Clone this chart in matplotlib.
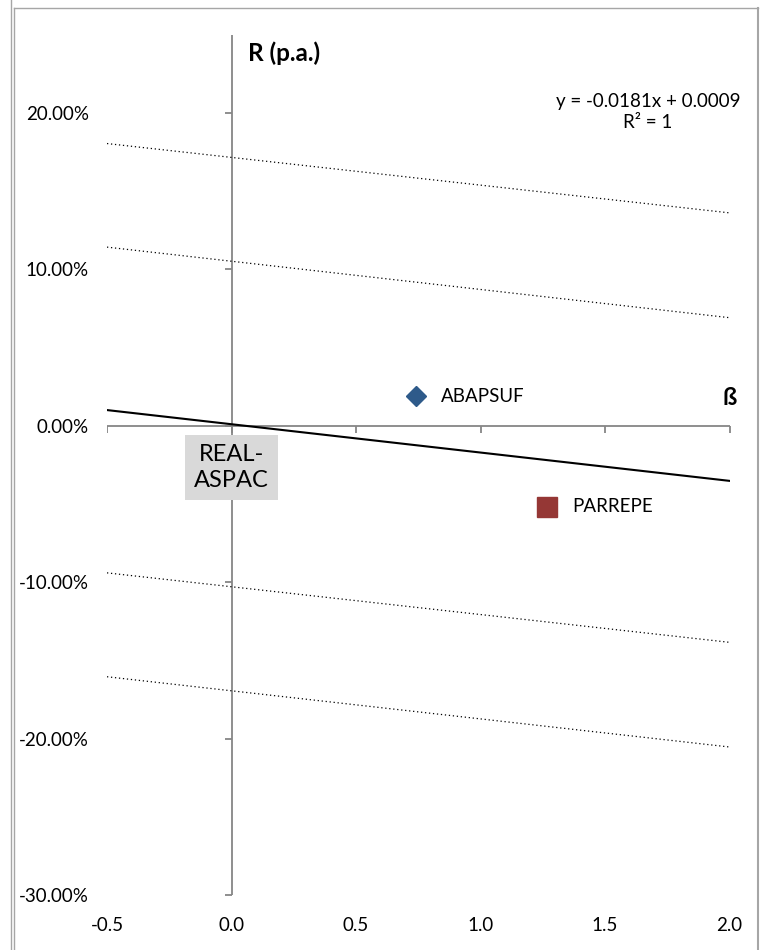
import numpy as np
import matplotlib
matplotlib.use("Agg")
import matplotlib.pyplot as plt
from matplotlib.lines import Line2D

plt.rcParams['font.family'] = ['Lato', 'DejaVu Sans']

# data
line_x = [-0.5, 2.0]
slope, intercept = -0.0181, 0.0009
band_outer_up = [0.1803, 0.1360]
band_inner_up = [0.1141, 0.0690]
band_inner_lo = [-0.0941, -0.1385]
band_outer_lo = [-0.1605, -0.2054]

funds = ["ABAPSUF", "PARREPE"]
fund_beta = [0.741, 1.267]
fund_ret = [0.0188, -0.0518]
fund_marker = ["D", "s"]
fund_ms = [10.5, 14]
fund_color = ["#2E5A8A", "#953735"]

bench_name = "REAL-\nASPAC"
bench_beta = 0.0
bench_ret = 0.0009

xticks = [-0.5, 0.0, 0.5, 1.0, 1.5, 2.0]
yticks = [-0.3, -0.2, -0.1, 0.0, 0.1, 0.2]
axis_gray = "#868686"

fig = plt.figure(figsize=(7.6, 9.5), dpi=100)
W, H = 760, 950
ax = fig.add_axes([107 / W, 1 - 895 / H, 622.5 / W, 860.5 / H])
ax.set_xlim(-0.5, 2.0)
ax.set_ylim(-0.30, 0.25)
for s in ax.spines.values():
    s.set_visible(False)

# tick labels at the low side, like excel
ax.set_xticks(xticks)
ax.set_xticklabels([f"{v:.1f}" for v in xticks])
ax.set_yticks(yticks)
ax.set_yticklabels([f"{v * 100:.2f}%" for v in yticks])
ax.tick_params(axis='both', length=0, labelsize=13.5, colors='black')
ax.tick_params(axis='y', pad=13)
ax.tick_params(axis='x', pad=16)

# axes crossing at zero
ax.plot([0, 0], [-0.30, 0.25], color=axis_gray, lw=1.3, zorder=1)
ax.plot([-0.5, 2.0], [0, 0], color=axis_gray, lw=1.3, zorder=1)
ax.plot(np.zeros(len(yticks)), yticks, ls='none', marker=0, ms=5,
        mew=1.3, color=axis_gray, zorder=1)
ax.plot(xticks, np.zeros(len(xticks)), ls='none', marker=3, ms=5,
        mew=1.3, color=axis_gray, zorder=1)

# dotted bands
for band in [band_outer_up, band_inner_up, band_inner_lo, band_outer_lo]:
    ax.plot(line_x, band, color='black', lw=0.9, ls=(0, (1, 2.2)), zorder=2)

# regression line
reg_y = [slope * x + intercept for x in line_x]
ax.plot(line_x, reg_y, color='black', lw=1.5, zorder=3)

# funds
for name, b, r, m, ms, c in zip(funds, fund_beta, fund_ret, fund_marker,
                                fund_ms, fund_color):
    ax.plot([b], [r], ls='none', marker=m, ms=ms, color=c, zorder=4)
    ax.annotate(name, (b, r), xytext=(18, 0), textcoords='offset points',
                ha='left', va='center', fontsize=13.5)

ax.annotate(bench_name, (bench_beta, bench_ret), xytext=(0, -31),
            textcoords='offset points', ha='center', va='center',
            fontsize=17, linespacing=1.3,
            bbox=dict(boxstyle='square,pad=0.38', fc='#D9D9D9', ec='none'),
            zorder=5)

# axis titles
ax.text(0.2265, 0.9785, "R (p.a.)", transform=ax.transAxes, ha='left',
        va='center', fontsize=17.5, fontweight='bold')
ax.annotate("ß", (2.0, 0), xytext=(0, 20), textcoords='offset points',
            ha='center', va='center', fontsize=17, fontweight='bold')

# trendline equation
ax.text(0.869, 0.91, f"y = {slope}x + {intercept}\nR² = 1",
        transform=ax.transAxes, ha='center', va='center', fontsize=13.5,
        linespacing=1.25)

# chart frame
frame = "#A6A6A6"
fig.add_artist(Line2D([11 / W, 11 / W], [0, 1], color=frame, lw=1))
fig.add_artist(Line2D([14 / W, 14 / W], [0, 1 - 8 / H], color=frame, lw=1))
fig.add_artist(Line2D([14 / W, 758 / W], [1 - 8 / H, 1 - 8 / H], color=frame, lw=1))
fig.add_artist(Line2D([758 / W, 758 / W], [0, 1 - 8 / H], color=frame, lw=1.5))

fig.savefig("out.png", dpi=100)
